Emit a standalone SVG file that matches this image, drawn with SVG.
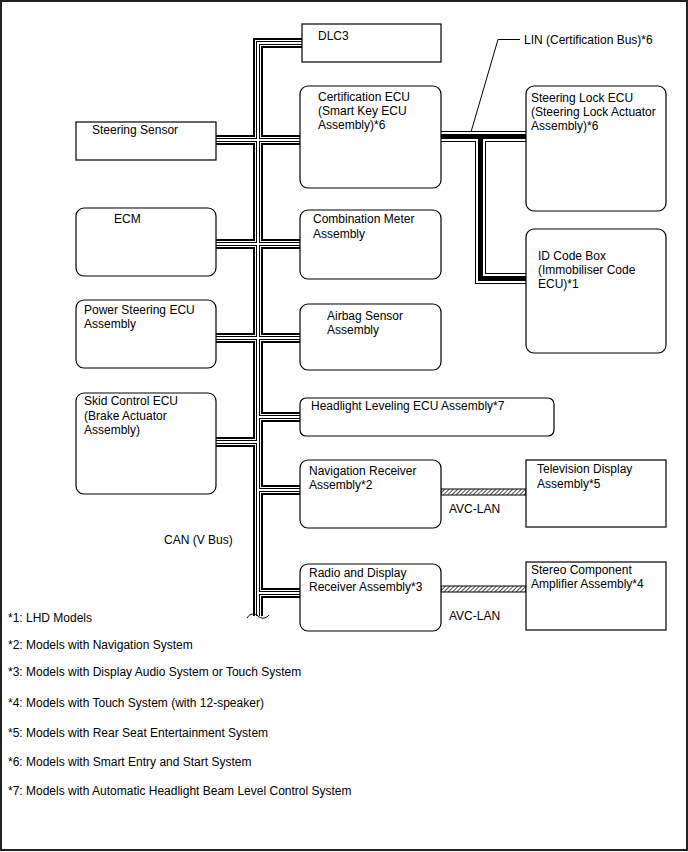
<svg xmlns="http://www.w3.org/2000/svg" xmlns:xlink="http://www.w3.org/1999/xlink" width="688" height="852" viewBox="0 0 688 852">
<style>
  text { font-family: "Liberation Sans", Arial, sans-serif; font-size: 12px; fill: #000; }
  .box { fill: #fff; stroke: #000; stroke-width: 1.2; }
  .can { fill: none; stroke-linecap: butt; stroke-linejoin: miter; }
  .b10 { stroke: #000; stroke-width: 10; }
  .w6 { stroke: #fff; stroke-width: 6; }
  .b4 { stroke: #000; stroke-width: 4; }
  .w2 { stroke: #fff; stroke-width: 2; }
  .lb11 { stroke: #000; stroke-width: 11; }
  .lw9 { stroke: #fff; stroke-width: 9; }
  .lb5 { stroke: #000; stroke-width: 5; }
  .thin { fill: none; stroke: #000; stroke-width: 1; }
</style>
<defs>
  <path id="canPath" fill="none" d="M302,43 H258 V616 M216,140 H300 M216,244 H300 M216,338 H300 M258,417 H300 M216,442 H258 M258,490 H300 M258,593 H300"/>
  <path id="linPath" fill="none" d="M441,136.5 H526 M480.5,136.5 V278.5 H526"/>
  <pattern id="hatch" width="3" height="3" patternUnits="userSpaceOnUse" patternTransform="rotate(45)">
    <rect width="3" height="3" fill="#fff"/>
    <line x1="0" y1="0" x2="0" y2="3" stroke="#000" stroke-width="1.4"/>
  </pattern>
</defs>
<rect x="1" y="1" width="686" height="849" fill="#fff" stroke="#222" stroke-width="2"/>

<g id="connectors">
  <g class="can">
    <use xlink:href="#canPath" class="b10"/>
    <use xlink:href="#canPath" class="w6"/>
    <use xlink:href="#canPath" class="b4"/>
    <use xlink:href="#canPath" class="w2"/>
  </g>
  <path class="thin" d="M247,618 C250,613 255,613 258,616 C261,619 266,619 269,615"/>
  <g class="can">
    <use xlink:href="#linPath" class="lb11"/>
    <use xlink:href="#linPath" class="lw9"/>
    <use xlink:href="#linPath" class="lb5"/>
  </g>
  <path class="thin" d="M520,39.5 H498 L471,132"/>
  <rect x="441" y="489" width="85" height="6" fill="url(#hatch)" stroke="#000" stroke-width="1"/>
  <rect x="441" y="586" width="85" height="6" fill="url(#hatch)" stroke="#000" stroke-width="1"/>
  <text x="449" y="513">AVC-LAN</text>
  <text x="449" y="620">AVC-LAN</text>
  <text x="164" y="544">CAN (V Bus)</text>
  <text x="524" y="44">LIN (Certification Bus)*6</text>
</g>

<g id="dlc3"><rect class="box" x="302" y="24" width="139" height="38"/><text x="318" y="40">DLC3</text></g>
<g id="certification-ecu"><rect class="box" x="300" y="86" width="141" height="102" rx="8"/><text x="318" y="101">Certification ECU</text><text x="318" y="115">(Smart Key ECU</text><text x="318" y="129">Assembly)*6</text></g>
<g id="steering-sensor"><rect class="box" x="76" y="122" width="140" height="38"/><text x="92" y="134">Steering Sensor</text></g>
<g id="steering-lock-ecu"><rect class="box" x="526" y="86" width="140" height="125" rx="8"/><text x="531" y="102">Steering Lock ECU</text><text x="531" y="116">(Steering Lock Actuator</text><text x="531" y="130">Assembly)*6</text></g>
<g id="ecm"><rect class="box" x="76" y="208" width="140" height="68" rx="8"/><text x="114" y="223">ECM</text></g>
<g id="combination-meter"><rect class="box" x="300" y="210" width="141" height="69" rx="8"/><text x="313" y="223">Combination Meter</text><text x="313" y="238">Assembly</text></g>
<g id="id-code-box"><rect class="box" x="526" y="229" width="140" height="124" rx="8"/><text x="538" y="260">ID Code Box</text><text x="538" y="274">(Immobiliser Code</text><text x="538" y="288">ECU)*1</text></g>
<g id="power-steering-ecu"><rect class="box" x="76" y="300" width="140" height="68" rx="8"/><text x="84" y="314">Power Steering ECU</text><text x="84" y="328">Assembly</text></g>
<g id="airbag-sensor"><rect class="box" x="300" y="304" width="141" height="66" rx="8"/><text x="327" y="320">Airbag Sensor</text><text x="327" y="334">Assembly</text></g>
<g id="skid-control-ecu"><rect class="box" x="76" y="393" width="140" height="101" rx="8"/><text x="84" y="405">Skid Control ECU</text><text x="84" y="420">(Brake Actuator</text><text x="84" y="434">Assembly)</text></g>
<g id="headlight-leveling-ecu"><rect class="box" x="300" y="398" width="254" height="38" rx="6"/><text x="311" y="410">Headlight Leveling ECU Assembly*7</text></g>
<g id="navigation-receiver"><rect class="box" x="300" y="460" width="141" height="68" rx="8"/><text x="309" y="475">Navigation Receiver</text><text x="309" y="489">Assembly*2</text></g>
<g id="television-display"><rect class="box" x="526" y="460" width="140" height="67"/><text x="537" y="473">Television Display</text><text x="537" y="488">Assembly*5</text></g>
<g id="radio-display-receiver"><rect class="box" x="300" y="564" width="141" height="67" rx="8"/><text x="309" y="577">Radio and Display</text><text x="309" y="591">Receiver Assembly*3</text></g>
<g id="stereo-component-amplifier"><rect class="box" x="526" y="562" width="140" height="68"/><text x="531" y="574">Stereo Component</text><text x="531" y="588">Amplifier Assembly*4</text></g>

<g id="footnotes">
  <text x="8" y="622">*1: LHD Models</text>
  <text x="8" y="649">*2: Models with Navigation System</text>
  <text x="8" y="676">*3: Models with Display Audio System or Touch System</text>
  <text x="8" y="707">*4: Models with Touch System (with 12-speaker)</text>
  <text x="8" y="737">*5: Models with Rear Seat Entertainment System</text>
  <text x="8" y="766">*6: Models with Smart Entry and Start System</text>
  <text x="8" y="795">*7: Models with Automatic Headlight Beam Level Control System</text>
</g>
</svg>
